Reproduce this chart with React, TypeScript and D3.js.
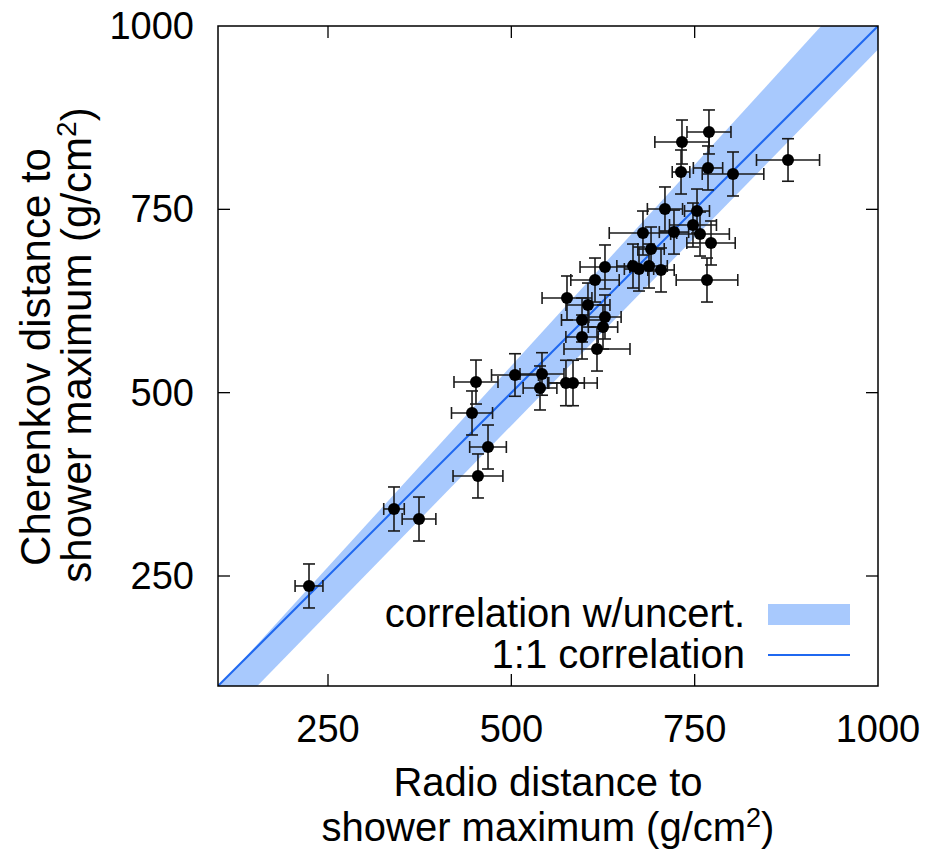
import React from "react";
import * as d3 from "d3";

// Radio Xmax (x), Cherenkov Xmax (y), uncertainties, in g/cm^2
const radioX = [769.5, 732.7, 877.3, 768.2, 731.4, 802.3, 709.5, 753.2, 747.7, 679.5, 721.8, 757.3, 772.3, 690.5, 766.8, 665.9, 674.1, 687.7, 704.1, 627.7, 614.1, 575.9, 604.5, 627.7, 596.4, 625.0, 596.4, 616.8, 505.0, 541.8, 539.1, 574.5, 584.1, 451.8, 446.4, 468.2, 454.5, 340.0, 374.1, 224.1];
const cherenkovY = [855.5, 841.8, 817.3, 806.4, 800.9, 798.2, 750.5, 747.7, 728.6, 717.7, 719.0, 716.3, 704.1, 695.9, 653.6, 672.7, 668.6, 672.7, 667.3, 671.4, 653.6, 629.1, 619.5, 603.2, 599.1, 589.5, 575.9, 559.5, 524.1, 525.5, 506.4, 513.2, 513.2, 514.5, 472.3, 425.9, 386.4, 341.4, 327.7, 236.4];
const radioErr = [30, 37, 43, 20, 12, 42, 24, 17, 32, 46, 20, 40, 33, 18, 42, 22, 20, 25, 18, 34, 33, 34, 30, 22, 28, 20, 22, 45, 32, 30, 23, 25, 33, 30, 28, 25, 34, 14, 23, 19];
const cherenkovErr = [30, 30, 29, 30, 30, 30, 30, 30, 30, 30, 30, 30, 30, 30, 30, 30, 30, 30, 30, 30, 30, 30, 30, 30, 30, 30, 30, 30, 29, 29, 30, 31, 31, 30, 30, 30, 30, 30, 30, 30];

// correlation band (uncertainty) and 1:1 line
const bandX = [100, 1000];
const bandLower = [45, 968];
const bandUpper = [98, 1085];
const lineX = [100, 1000];
const lineY = [100, 1000];

const tickValues = [250, 500, 750, 1000];
const legendLabels = ["correlation w/uncert.", "1:1 correlation"];

const W = 932;
const H = 856;
const L = 218, R = 878, T = 26, B = 686;
const FONT = "'Liberation Sans', Arial, Helvetica, sans-serif";
const BAND = "#a8c9fd";
const LINE = "#1f68f0";

export default function App() {
  const x = d3.scaleLinear().domain([100, 1000]).range([L, R]);
  const y = d3.scaleLinear().domain([100, 1000]).range([B, T]);

  const bandData = bandX.map((v, i) => ({ x: v, lo: bandLower[i], hi: bandUpper[i] }));
  const area = d3.area<any>().x((d) => x(d.x)).y0((d) => y(d.lo)).y1((d) => y(d.hi));
  const line = d3.line<any>().x((d) => x(d[0])).y((d) => y(d[1]));
  const linePts = lineX.map((v, i) => [v, lineY[i]]);

  const cap = 6;
  const tickLen = 12;
  const fs = 38;
  const tfs = 40;
  const yfs = 42;

  return (
    <svg width={W} height={H} style={{ position: "absolute", left: 0, top: 0, background: "#fff" }} fontFamily={FONT}>
      <rect x={0} y={0} width={W} height={H} fill="#fff" />
      <defs>
        <clipPath id="plotclip">
          <rect x={L} y={T} width={R - L} height={B - T} />
        </clipPath>
      </defs>
      <g clipPath="url(#plotclip)">
        <path d={area(bandData) || ""} fill={BAND} />
        <path d={line(linePts as any) || ""} fill="none" stroke={LINE} strokeWidth={2} />
      </g>

      {/* error bars */}
      <g stroke="#1a1a1a" strokeWidth={1.6} fill="none">
        {radioX.map((vx, i) => {
          const vy = cherenkovY[i];
          const cx = x(vx), cy = y(vy);
          const x0 = x(vx - radioErr[i]), x1 = x(vx + radioErr[i]);
          const y0 = y(vy - cherenkovErr[i]), y1 = y(vy + cherenkovErr[i]);
          return (
            <g key={i}>
              <line x1={x0} y1={cy} x2={x1} y2={cy} />
              <line x1={x0} y1={cy - cap} x2={x0} y2={cy + cap} />
              <line x1={x1} y1={cy - cap} x2={x1} y2={cy + cap} />
              <line x1={cx} y1={y0} x2={cx} y2={y1} />
              <line x1={cx - cap} y1={y0} x2={cx + cap} y2={y0} />
              <line x1={cx - cap} y1={y1} x2={cx + cap} y2={y1} />
            </g>
          );
        })}
      </g>
      <g fill="#000">
        {radioX.map((vx, i) => (
          <circle key={i} cx={x(vx)} cy={y(cherenkovY[i])} r={6} />
        ))}
      </g>

      {/* frame and ticks */}
      <rect x={L} y={T} width={R - L} height={B - T} fill="none" stroke="#000" strokeWidth={1.5} />
      <g stroke="#000" strokeWidth={1.3}>
        {tickValues.filter((t) => t < 1000).map((t) => (
          <g key={"t" + t}>
            <line x1={x(t)} y1={B} x2={x(t)} y2={B - tickLen} />
            <line x1={x(t)} y1={T} x2={x(t)} y2={T + tickLen} />
            <line x1={L} y1={y(t)} x2={L + tickLen} y2={y(t)} />
            <line x1={R} y1={y(t)} x2={R - tickLen} y2={y(t)} />
          </g>
        ))}
      </g>
      <g fontSize={fs} fill="#000">
        {tickValues.map((t) => (
          <text key={"xl" + t} x={x(t)} y={B + 56} textAnchor="middle">{t}</text>
        ))}
        {tickValues.map((t) => (
          <text key={"yl" + t} x={L - 24} y={y(t) + 13} textAnchor="end">{t}</text>
        ))}
      </g>

      {/* axis titles */}
      <g fill="#000" textAnchor="middle">
        <text x={(L + R) / 2} y={796} fontSize={tfs}>Radio distance to</text>
        <text x={(L + R) / 2} y={841} fontSize={tfs}>
          shower maximum (g/cm<tspan dy={-14} fontSize={27}>2</tspan><tspan dy={14}>)</tspan>
        </text>
        <g transform={`translate(50, 357) rotate(-90)`}>
          <text x={0} y={0} fontSize={yfs}>Cherenkov distance to</text>
        </g>
        <g transform={`translate(91, 345) rotate(-90)`}>
          <text x={0} y={0} fontSize={yfs}>
            shower maximum (g/cm<tspan dy={-15} fontSize={28}>2</tspan><tspan dy={15}>)</tspan>
          </text>
        </g>
      </g>

      {/* legend */}
      <g fontSize={tfs} fill="#000" textAnchor="end">
        <text x={745} y={627}>{legendLabels[0]}</text>
        <text x={745} y={668}>{legendLabels[1]}</text>
      </g>
      <rect x={768} y={604} width={82} height={21} fill={BAND} />
      <line x1={768} y1={655} x2={850} y2={655} stroke={LINE} strokeWidth={2} />
    </svg>
  );
}
